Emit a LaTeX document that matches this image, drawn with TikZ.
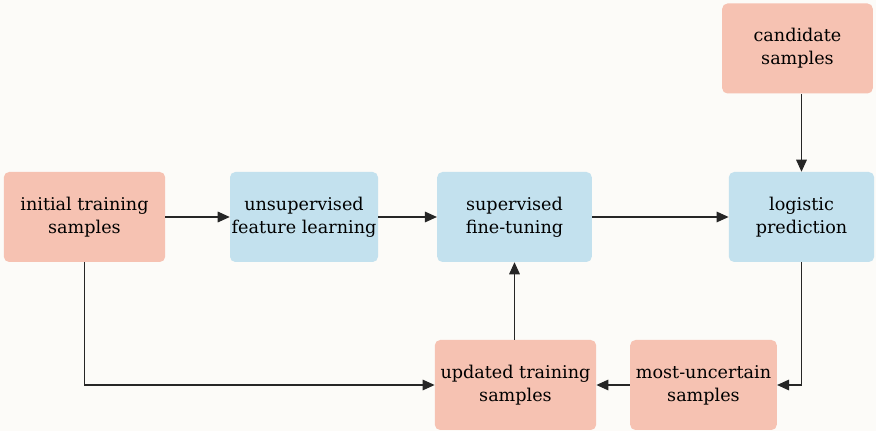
\documentclass[tikz,border=0pt]{standalone}
\usepackage{fontspec}
\setmainfont{DejaVu Serif}
\usepackage{tikz}
\usetikzlibrary{arrows.meta}
\definecolor{bgpaper}{HTML}{FCFBF8}
\definecolor{samplefill}{HTML}{F6C2B2}
\definecolor{stagefill}{HTML}{C3E1EE}
\tikzset{
  box/.style={rounded corners=4pt, align=center, minimum height=67.5pt,
    inner sep=1pt, font=\fontsize{13.2}{17.3}\selectfont},
  samplebox/.style={box, fill=samplefill},
  stagebox/.style={box, fill=stagefill},
  flow/.style={-{Triangle[length=9pt,width=8pt]}, line width=0.8pt, black!85}
}
\begin{document}
\begin{tikzpicture}[x=0.75pt,y=-0.75pt]
  % page and background
  \useasboundingbox (0,0) rectangle (876,431);
  \fill[bgpaper] (0,0) rectangle (876,431);
  % Draw sample boxes
  \node[samplebox, minimum width=121pt] (init) at (84.5,217) {initial training\\samples};
  \node[samplebox, minimum width=113pt] (cand) at (797.5,48.5) {candidate\\samples};
  \node[samplebox, minimum width=121pt] (upd) at (515.5,385) {updated training\\samples};
  \node[samplebox, minimum width=110pt] (unc) at (703.5,385) {most-uncertain\\samples};
  % Draw stage boxes
  \node[stagebox, minimum width=111pt] (unsup) at (304,217) {unsupervised\\feature learning};
  \node[stagebox, minimum width=116pt] (sup) at (514.5,217) {supervised\\fine-tuning};
  \node[stagebox, minimum width=109pt] (logit) at (801.5,217) {logistic\\prediction};
  % Draw connectors
  \draw[flow] (init) -- (unsup);
  \draw[flow] (unsup) -- (sup);
  \draw[flow] (sup) -- (logit);
  \draw[flow] (cand.south -| logit) -- (logit);
  \draw[flow] (logit.south) |- (unc.east);
  \draw[flow] (unc) -- (upd);
  \draw[flow] (upd.north -| sup) -- (sup);
  \draw[flow] (init.south) |- (upd.west);
\end{tikzpicture}
\end{document}
